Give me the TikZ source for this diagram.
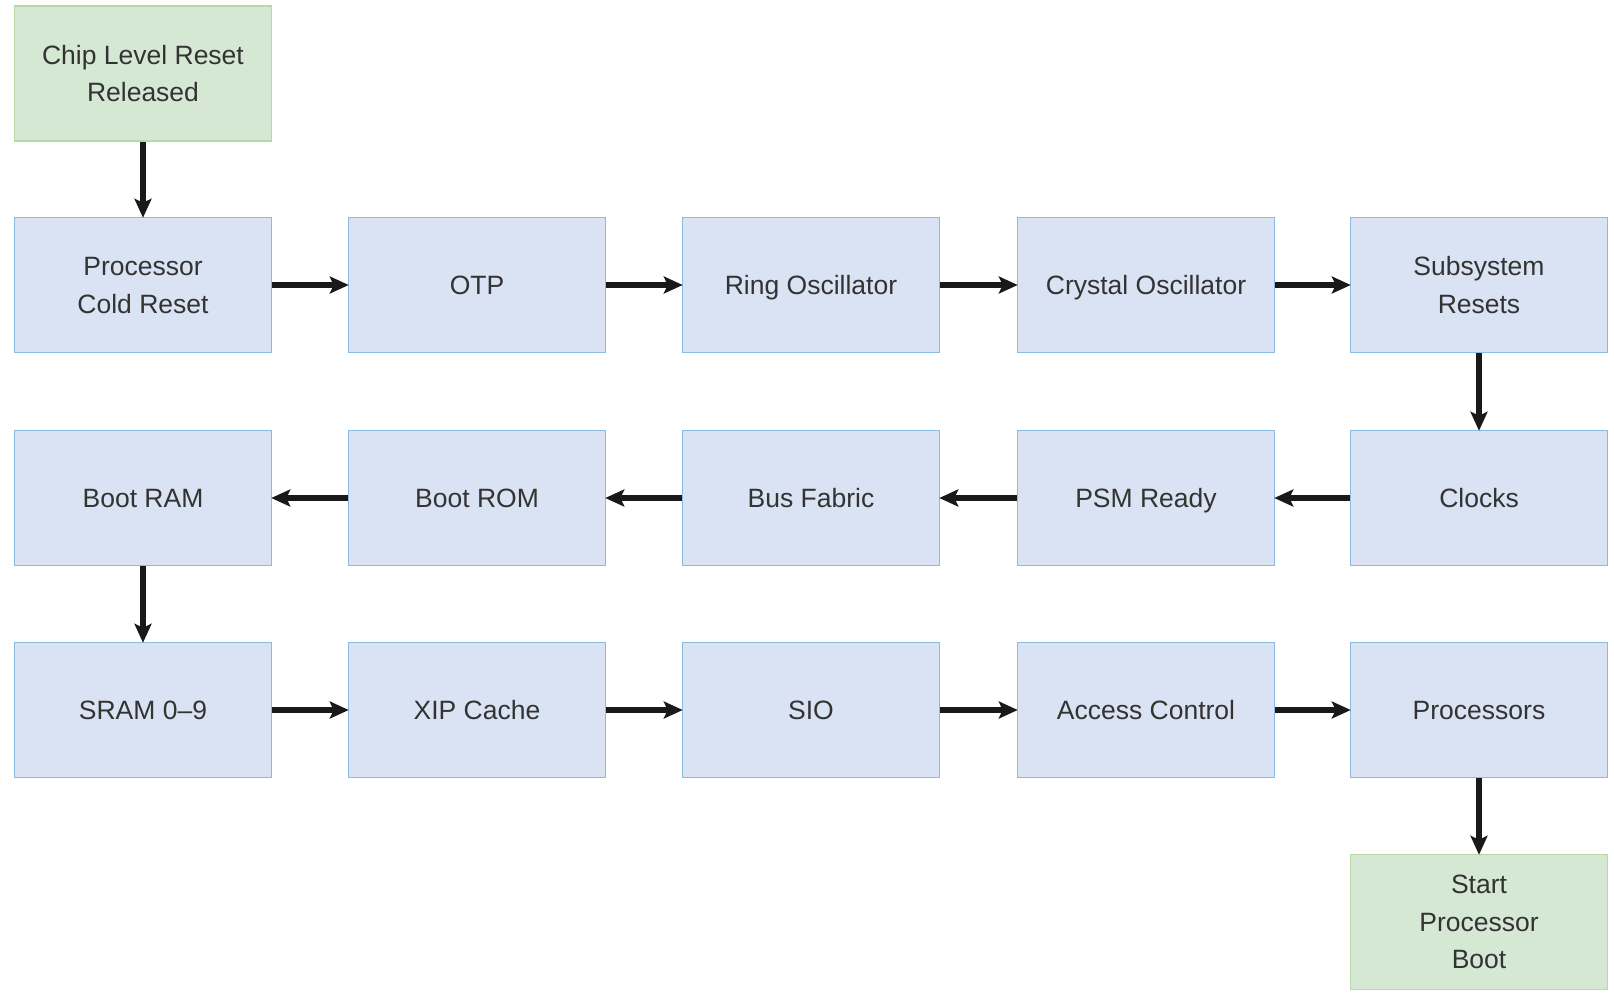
\documentclass[tikz,border=0pt]{standalone}
\usepackage{fontspec}
\setmainfont{Liberation Sans}
\usetikzlibrary{arrows.meta}
\definecolor{bfill}{HTML}{DAE3F3}
\definecolor{bline}{HTML}{8DBAE0}
\definecolor{gfill}{HTML}{D5E8D4}
\definecolor{gline}{HTML}{B7D9A6}
\definecolor{txt}{HTML}{333333}
\newcommand{\mystrut}{\rule[-9.5pt]{0pt}{37.5pt}}
\begin{document}
\begin{tikzpicture}[x=1pt,y=-1pt,
  blk/.style={draw=bline,fill=bfill,line width=1.5pt,minimum width=257pt,minimum height=135pt,inner sep=0pt,align=center,text=txt,font=\fontsize{26.5}{37.5}\selectfont},
  gblk/.style={blk,draw=gline,fill=gfill},
  arr/.style={line width=5.5pt,-{Stealth[length=19pt,width=17pt,inset=4pt]},shorten >=-1pt,color=black!90}]
\useasboundingbox (0,0) rectangle (1614,994);
\fill[white] (0,0) rectangle (1614,994);
\node[gblk] (chip) at (143,73.5) {\mystrut Chip Level Reset\\\mystrut Released};
\node[blk] (pcr) at (143,285) {\mystrut Processor\\\mystrut Cold Reset};
\node[blk] (otp) at (477,285) {\mystrut OTP};
\node[blk] (ring) at (811,285) {\mystrut Ring Oscillator};
\node[blk] (xtal) at (1146,285) {\mystrut Crystal Oscillator};
\node[blk] (subs) at (1479,285) {\mystrut Subsystem\\\mystrut Resets};
\node[blk] (clk) at (1479,498) {\mystrut Clocks};
\node[blk] (psm) at (1146,498) {\mystrut PSM Ready};
\node[blk] (bus) at (811,498) {\mystrut Bus Fabric};
\node[blk] (brom) at (477,498) {\mystrut Boot ROM};
\node[blk] (bram) at (143,498) {\mystrut Boot RAM};
\node[blk] (sram) at (143,710) {\mystrut SRAM 0{\textendash}9};
\node[blk] (xip) at (477,710) {\mystrut XIP Cache};
\node[blk] (sio) at (811,710) {\mystrut SIO};
\node[blk] (acc) at (1146,710) {\mystrut Access Control};
\node[blk] (proc) at (1479,710) {\mystrut Processors};
\node[gblk] (start) at (1479,922) {\mystrut Start\\\mystrut Processor\\\mystrut Boot};
\draw[arr] (chip) -- (pcr);
\draw[arr] (pcr) -- (otp);
\draw[arr] (otp) -- (ring);
\draw[arr] (ring) -- (xtal);
\draw[arr] (xtal) -- (subs);
\draw[arr] (subs) -- (clk);
\draw[arr] (clk) -- (psm);
\draw[arr] (psm) -- (bus);
\draw[arr] (bus) -- (brom);
\draw[arr] (brom) -- (bram);
\draw[arr] (bram) -- (sram);
\draw[arr] (sram) -- (xip);
\draw[arr] (xip) -- (sio);
\draw[arr] (sio) -- (acc);
\draw[arr] (acc) -- (proc);
\draw[arr] (proc) -- (start);
\end{tikzpicture}
\end{document}
